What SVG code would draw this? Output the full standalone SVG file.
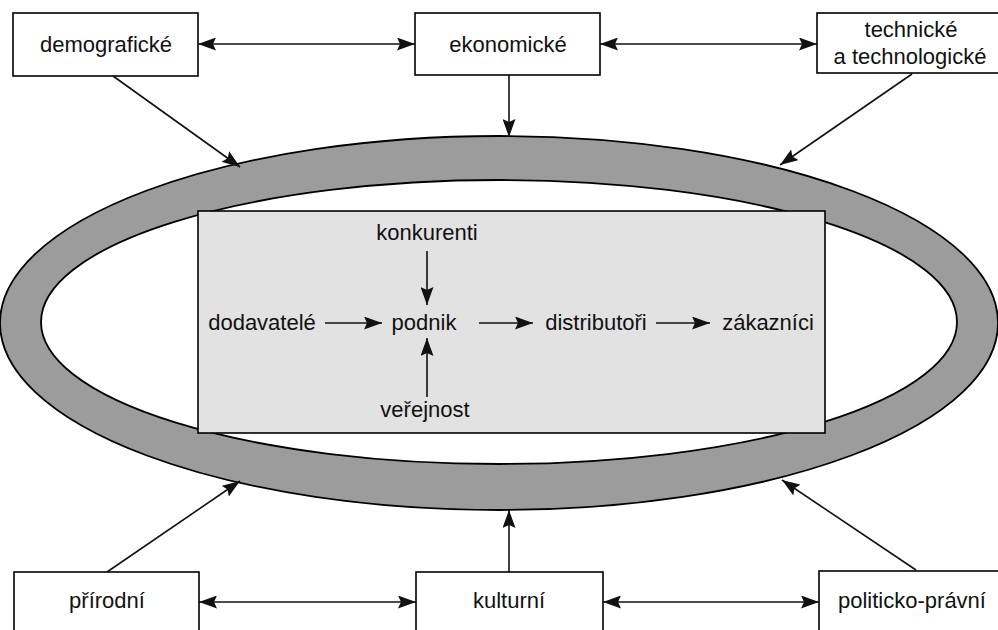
<svg xmlns="http://www.w3.org/2000/svg" width="998" height="630" viewBox="0 0 998 630">
<defs>
<style>
.box{fill:#fff;stroke:#000;stroke-width:1.6}
.t{font-family:"Liberation Sans",Arial,sans-serif;font-size:22px;fill:#111;text-anchor:middle}
.c{stroke:#111;stroke-width:1.6;fill:none}
</style>
<marker id="ah" viewBox="0 0 18 13" refX="18" refY="6.5" markerWidth="18" markerHeight="13" markerUnits="userSpaceOnUse" orient="auto-start-reverse">
<path d="M0,0 L18,6.5 L0,13 L3,6.5 Z" fill="#111"/>
</marker>
</defs>
<rect width="998" height="630" fill="#fff"/>
<g id="ring">
<path d="M0,323 A499,187 0 1,0 998,323 A499,187 0 1,0 0,323 Z M41,322 A458,142 0 1,0 957,322 A458,142 0 1,0 41,322 Z" fill="#9c9c9c" fill-rule="evenodd" stroke="#000" stroke-width="1.8"/>
</g>
<g id="inner">
<rect x="198" y="211" width="627" height="222" fill="#e2e2e2" stroke="#000" stroke-width="1.6"/>
</g>
<g id="demograficke"><rect class="box" x="13" y="13" width="185" height="63"/><text class="t" x="106" y="52">demografické</text></g>
<g id="ekonomicke"><rect class="box" x="415" y="13" width="185" height="62"/><text class="t" x="508" y="52">ekonomické</text></g>
<g id="technicke"><rect class="box" x="817" y="13" width="185" height="60"/><text class="t" x="911" y="37">technické</text><text class="t" x="910" y="64">a technologické</text></g>
<g id="prirodni"><rect class="box" x="14" y="572" width="185" height="62"/><text class="t" x="107" y="608">přírodní</text></g>
<g id="kulturni"><rect class="box" x="416" y="572" width="187" height="62"/><text class="t" x="509" y="608">kulturní</text></g>
<g id="politicko"><rect class="box" x="819" y="571" width="185" height="63"/><text class="t" x="912" y="608">politicko-právní</text></g>
<g id="konkurenti"><text class="t" x="427" y="240">konkurenti</text></g>
<g id="dodavatele"><text class="t" x="262" y="330">dodavatelé</text></g>
<g id="podnik"><text class="t" x="424" y="330">podnik</text></g>
<g id="distributori"><text class="t" x="596" y="330">distributoři</text></g>
<g id="zakaznici"><text class="t" x="768" y="330">zákazníci</text></g>
<g id="verejnost"><text class="t" x="425" y="417">veřejnost</text></g>
<g id="connectors">
<line class="c" x1="198" y1="44" x2="415" y2="44" marker-start="url(#ah)" marker-end="url(#ah)"/>
<line class="c" x1="600" y1="44" x2="817" y2="44" marker-start="url(#ah)" marker-end="url(#ah)"/>
<line class="c" x1="199" y1="602" x2="416" y2="602" marker-start="url(#ah)" marker-end="url(#ah)"/>
<line class="c" x1="603" y1="602" x2="819" y2="602" marker-start="url(#ah)" marker-end="url(#ah)"/>
<line class="c" x1="113" y1="76" x2="240" y2="167" marker-end="url(#ah)"/>
<line class="c" x1="509" y1="75" x2="509" y2="137" marker-end="url(#ah)"/>
<line class="c" x1="912" y1="74" x2="780" y2="165" marker-end="url(#ah)"/>
<line class="c" x1="107" y1="572" x2="240" y2="481" marker-end="url(#ah)"/>
<line class="c" x1="509" y1="572" x2="509" y2="510" marker-end="url(#ah)"/>
<line class="c" x1="916" y1="570" x2="782" y2="480" marker-end="url(#ah)"/>
<line class="c" x1="325" y1="323" x2="382" y2="323" marker-end="url(#ah)"/>
<line class="c" x1="479" y1="323" x2="533" y2="323" marker-end="url(#ah)"/>
<line class="c" x1="656" y1="323" x2="710" y2="323" marker-end="url(#ah)"/>
<line class="c" x1="427" y1="251" x2="427" y2="305" marker-end="url(#ah)"/>
<line class="c" x1="427" y1="397" x2="427" y2="338" marker-end="url(#ah)"/>
</g>
</svg>
